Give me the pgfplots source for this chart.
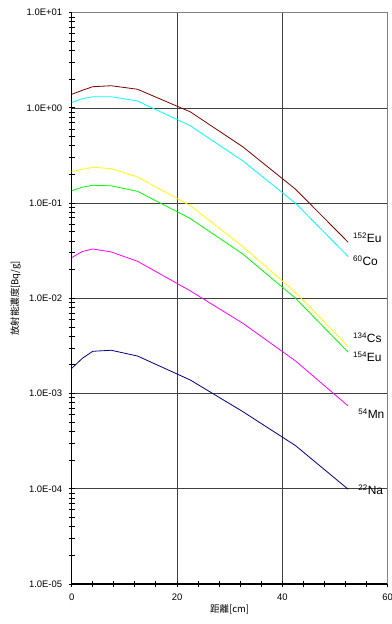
\documentclass[border=0pt]{standalone}
\usepackage{pgfplots}
\pgfplotsset{compat=1.18}
\usepackage{fontspec}
\setmainfont{Liberation Sans}
\newfontfamily\jp{Noto Sans CJK JP}
\definecolor{cEu152}{HTML}{800000}
\definecolor{cCo60}{HTML}{00FFFF}
\definecolor{cCs134}{HTML}{FFFF00}
\definecolor{cEu154}{HTML}{00FF00}
\definecolor{cMn54}{HTML}{FF00FF}
\definecolor{cNa22}{HTML}{000080}
\definecolor{gridc}{HTML}{404040}
\begin{document}
\begin{tikzpicture}
\path[use as bounding box] (0,0) rectangle (392bp,624bp);
\begin{axis}[
  at={(71.7bp,40bp)}, anchor=south west,
  scale only axis, width=316bp, height=571.3bp,
  ymode=log, xmin=0, xmax=60, ymin=1e-5, ymax=10,
  axis x line*=bottom, axis y line*=left,
  axis line style={line width=1.2bp, -},
  xtick={0,20,40,60},
  minor xtick={4,8,12,16,24,28,32,36,44,48,52,56},
  ytick={1e-5,1e-4,1e-3,1e-2,1e-1,1,10},
  minor ytick={2e-5,3e-5,4e-5,5e-5,6e-5,7e-5,8e-5,9e-5,
               2e-4,3e-4,4e-4,5e-4,6e-4,7e-4,8e-4,9e-4,
               2e-3,3e-3,4e-3,5e-3,6e-3,7e-3,8e-3,9e-3,
               2e-2,3e-2,4e-2,5e-2,6e-2,7e-2,8e-2,9e-2,
               0.2,0.3,0.4,0.5,0.6,0.7,0.8,0.9,
               2,3,4,5,6,7,8,9},
  yticklabels={1.0E-05,1.0E-04,1.0E-03,1.0E-02,1.0E-01,1.0E+00,1.0E+01},
  tick align=center,
  major tick length=6bp, minor tick length=6bp,
  tick style={black, line width=1bp},
  grid=major, major grid style={gridc, line width=0.6bp},
  ticklabel style={font=\fontsize{9.5}{11}\selectfont},
  /pgf/number format/assume math mode=true,
  yticklabel style={xshift=-3bp},
  xticklabel style={yshift=-3bp},
  xlabel={\jp\fontsize{9.5}{11}\selectfont 距離[cm]},
  ylabel={\jp\fontsize{9.5}{11}\selectfont 放射能濃度[Bq/g]},
  xlabel style={yshift=3bp},
  ylabel style={yshift=-1bp},
  clip=false,
  every axis plot/.append style={line width=0.8bp, mark=none},
]
\addplot[cEu152] coordinates {(0,1.39) (2,1.53) (4,1.67) (7.5,1.71) (12.5,1.57) (22.5,0.91) (32.5,0.39) (42.5,0.14) (52.5,0.0388)};
\addplot[cCo60] coordinates {(0,1.14) (2,1.25) (4,1.31) (7.5,1.31) (12.5,1.18) (22.5,0.65) (32.5,0.277) (42.5,0.0997) (52.5,0.0274)};
\addplot[cCs134] coordinates {(0,0.214) (2,0.227) (4,0.238) (7.5,0.23) (12.5,0.188) (22.5,0.094) (32.5,0.0349) (42.5,0.0115) (52.5,0.00311)};
\addplot[cEu154] coordinates {(0,0.135) (2,0.147) (4,0.154) (7.5,0.152) (12.5,0.133) (22.5,0.069) (32.5,0.0292) (42.5,0.0100) (52.5,0.00272)};
\addplot[cMn54] coordinates {(0,0.0268) (2,0.031) (4,0.033) (7.5,0.0307) (12.5,0.0245) (22.5,0.012) (32.5,0.00547) (42.5,0.0022) (52.5,0.00074)};
\addplot[cNa22] coordinates {(0,0.00184) (2,0.00234) (4,0.00278) (7.5,0.00285) (12.5,0.00248) (22.5,0.00139) (32.5,0.000646) (42.5,0.000284) (52.5,0.0000988)};
\draw[gray, line width=1.2bp] (rel axis cs:0,1) -- (rel axis cs:1,1) -- (rel axis cs:1,0);
\begin{scope}[every node/.style={anchor=west, inner sep=0pt, font=\fontsize{12}{14}\selectfont}]
\node at (axis cs:53.4,0.043) {\textsuperscript{152}Eu};
\node at (axis cs:53.4,0.0247) {\textsuperscript{60}Co};
\node at (axis cs:53.4,0.00384) {\textsuperscript{134}Cs};
\node at (axis cs:53.4,0.00242) {\textsuperscript{154}Eu};
\node at (axis cs:54.4,0.00061) {\textsuperscript{54}Mn};
\node at (axis cs:54.4,0.000097) {\textsuperscript{22}Na};
\end{scope}
\end{axis}
\end{tikzpicture}
\end{document}
